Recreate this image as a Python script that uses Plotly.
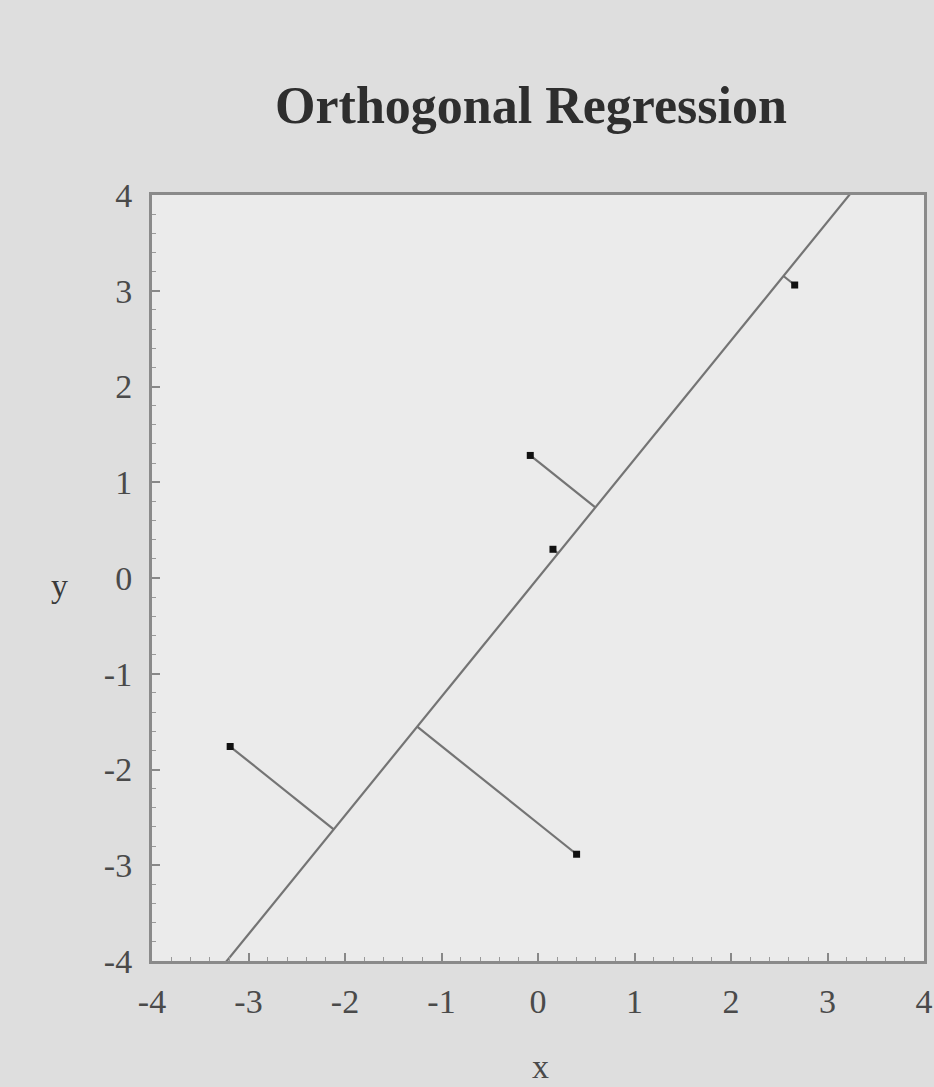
import plotly.graph_objects as go

# Data
pts_x = [-3.19, -0.08, 0.155, 0.40, 2.66]
pts_y = [-1.76, 1.28, 0.30, -2.885, 3.06]
slope = 1.24
intercept = 0.0

tick_vals = [-4, -3, -2, -1, 0, 1, 2, 3, 4]
tick_text = ["-4", "-3", "-2", "-1", "0", "1", "2", "3", "4"]

line_col = "#747474"
serif = "Liberation Serif, Times New Roman, serif"

fig = go.Figure()

# regression line
lx = [-4, 4]
ly = [slope * v + intercept for v in lx]
fig.add_trace(go.Scatter(x=lx, y=ly, mode="lines",
                         line=dict(color=line_col, width=2.2), showlegend=False))

# perpendicular segments
for px, py in zip(pts_x, pts_y):
    fx = (px + slope * (py - intercept)) / (1 + slope ** 2)
    fy = slope * fx + intercept
    fig.add_trace(go.Scatter(x=[px, fx], y=[py, fy], mode="lines",
                             line=dict(color=line_col, width=2.2), showlegend=False))

# points
fig.add_trace(go.Scatter(x=pts_x, y=pts_y, mode="markers",
                         marker=dict(symbol="square", size=7, color="#111111"),
                         showlegend=False))

axis_common = dict(
    range=[-4, 4], tickmode="array", tickvals=tick_vals, ticktext=tick_text,
    ticks="inside", ticklen=8, tickwidth=2, tickcolor="#888888",
    showline=True, linecolor="#8a8a8a", linewidth=3, mirror=True,
    showgrid=False, zeroline=False, automargin=False,
    tickfont=dict(family=serif, size=34, color="#4a4a4a"),
    minor=dict(ticks="inside", ticklen=4, tickwidth=1, tickcolor="#999999",
               tickmode="linear", tick0=-4, dtick=0.2, showgrid=False),
)

fig.update_layout(
    width=934, height=1087,
    margin=dict(l=152, r=10, t=195, b=126),
    paper_bgcolor="#dedede",
    plot_bgcolor="#ebebeb",
    title=dict(text="<b>Orthogonal Regression</b>", x=531 / 934, xanchor="center",
               y=1 - 105 / 1087, yanchor="middle",
               font=dict(family=serif, size=52, color="#2e2e2e")),
    xaxis=dict(**axis_common, ticklabelstandoff=8),
    yaxis=dict(**axis_common, ticklabelstandoff=10),
    annotations=[
        dict(text="x", xref="paper", yref="paper", x=(540 - 152) / 772,
             y=-(1066 - 961) / 766, xanchor="center", yanchor="middle",
             showarrow=False, font=dict(family=serif, size=34, color="#4a4a4a")),
        dict(text="y", xref="paper", yref="paper", x=-(152 - 59) / 772,
             y=(961 - 585) / 766, xanchor="center", yanchor="middle",
             showarrow=False, font=dict(family=serif, size=34, color="#3a3a3a")),
    ],
)

fig.write_html("out.html")
